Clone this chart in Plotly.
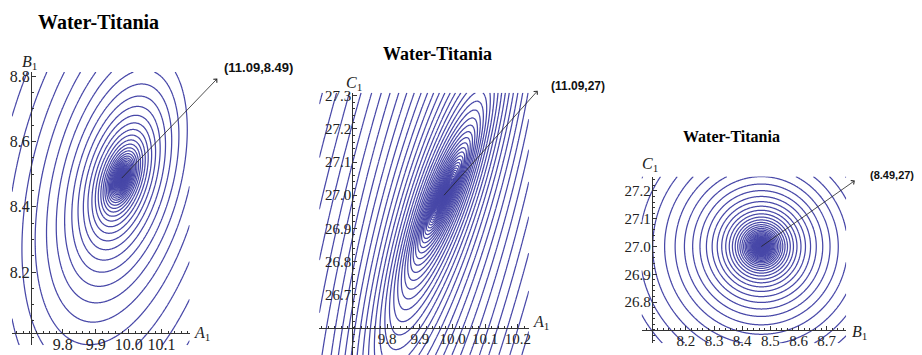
import numpy as np
import plotly.graph_objects as go

W, H = 922, 355

# ---- text ----
titles = ["Water-Titania", "Water-Titania", "Water-Titania"]
point_labels = ["(11.09,8.49)", "(11.09,27)", "(8.49,27)"]
x_names = ["A", "A", "B"]
y_names = ["B", "C", "C"]

# ---- minimum of each error surface ----
center_x = [9.979, 9.974, 8.468]
center_y = [8.488, 27.000, 27.000]
# orientation of the elliptical contours (deg, screen space): inner rings / outer rings
angle_inner = [70, 60, 90]
angle_outer = [78, 76, 90]
elongation = [2.2, 5.0, 1.03]
level_ratio = [1.17, 1.105, 1.13]
core_size = [14, 4, 6]   # extra crowding of contours near the minimum (px)

# ---- axes ----
x_ranges = [[9.6455, 10.185], [9.5924, 10.2336], [8.043, 8.769]]
y_ranges = [[7.976, 8.813], [26.518, 27.309], [26.652, 27.252]]
x_cross = [9.703, 9.693, 8.079]
y_cross = [8.013, 26.599, 26.699]
x_ticks = [[9.8, 9.9, 10.0, 10.1],
           [9.8, 9.9, 10.0, 10.1, 10.2],
           [8.2, 8.3, 8.4, 8.5, 8.6, 8.7]]
y_ticks = [[8.2, 8.4, 8.6, 8.8],
           [26.7, 26.8, 26.9, 27.0, 27.1, 27.2, 27.3],
           [26.8, 26.9, 27.0, 27.1, 27.2]]
x_minor = [0.02, 0.02, 0.02]
y_minor = [0.05, 0.02, 0.02]

# ---- layout (pixels) ----
boxes = [(12, 190, 68, 345), (320, 530, 89, 355), (643, 848, 174, 343)]
title_pos = [(99, 17, 20), (438, 50, 18), (733, 133, 16)]
tick_font = [16, 15, 15]
xname_pos = [(192, 333), (532, 322), (852, 332)]
yname_pos = [(30, 58), (355, 80), (651, 162)]
arrow_off = [(97, -101), (95, -106), (95, -67)]
label_pos = [(222, 63, 13), (550, 82, 12), (918, 172, 11)]
label_anchor = ["left", "left", "right"]

LINE = "#4848a8"
AX = "#333333"


def px(x):
    return x / W


def py(y):
    return 1 - y / H


fig = go.Figure()
annotations = []

for i in range(3):
    x0p, x1p, y0p, y1p = boxes[i]
    xr, yr = x_ranges[i], y_ranges[i]
    sx = (x1p - x0p) / (xr[1] - xr[0])
    sy = (y1p - y0p) / (yr[1] - yr[0])
    nx = int((x1p - x0p) * 1.6)
    ny = int((y1p - y0p) * 1.6)
    xs = np.linspace(xr[0], xr[1], nx)
    ys = np.linspace(yr[0], yr[1], ny)
    X, Y = np.meshgrid(xs, ys)
    dx = (X - center_x[i]) * sx
    dy = (Y - center_y[i]) * sy

    def radius(theta_deg):
        t = np.radians(theta_deg)
        u = dx * np.cos(t) + dy * np.sin(t)
        v = -dx * np.sin(t) + dy * np.cos(t)
        return np.sqrt(u ** 2 + (elongation[i] * v) ** 2 + 1e-6)

    # orientation drifts from inner to outer rings
    r = radius(angle_inner[i])
    for _ in range(5):
        f = np.clip(np.log(r / 10.0) / np.log(40.0), 0, 1)
        r = radius(angle_inner[i] + (angle_outer[i] - angle_inner[i]) * f)
    Z = np.log(r) - core_size[i] / (r + 0.5)

    sfx = "" if i == 0 else str(i + 1)
    xa, ya = "x" + sfx, "y" + sfx
    fig.add_trace(go.Contour(
        x=xs, y=ys, z=Z, xaxis=xa, yaxis=ya,
        contours=dict(coloring="lines", start=-10, end=np.log(4000),
                      size=np.log(level_ratio[i])),
        colorscale=[[0, LINE], [1, LINE]], showscale=False,
        line=dict(width=1.25), hoverinfo="skip"))

    xdom = [px(x0p), px(x1p)]
    ydom = [py(y1p), py(y0p)]
    xpos = ydom[0] + (y_cross[i] - yr[0]) / (yr[1] - yr[0]) * (ydom[1] - ydom[0])
    ypos = xdom[0] + (x_cross[i] - xr[0]) / (xr[1] - xr[0]) * (xdom[1] - xdom[0])

    common = dict(showgrid=False, zeroline=False, showline=True, linecolor=AX,
                  linewidth=1, ticks="inside", ticklen=4, tickcolor=AX,
                  tickwidth=1, tickmode="array", tickformat=".1f",
                  tickfont=dict(family="Liberation Serif", size=tick_font[i], color="#222"),
                  anchor="free", fixedrange=True)
    fig.layout["xaxis" + sfx] = dict(
        common, domain=xdom, range=xr, position=xpos, tickvals=x_ticks[i],
        ticklabelstandoff=-3,
        minor=dict(ticks="inside", ticklen=2, tickcolor=AX, tickmode="linear",
                   tick0=0, dtick=x_minor[i]))
    fig.layout["yaxis" + sfx] = dict(
        common, domain=ydom, range=yr, position=ypos, tickvals=y_ticks[i],
        ticklabelstandoff=-2,
        minor=dict(ticks="inside", ticklen=2, tickcolor=AX, tickmode="linear",
                   tick0=0, dtick=y_minor[i]))

    tx, ty, ts = title_pos[i]
    annotations.append(dict(text="<b>" + titles[i] + "</b>", x=px(tx), y=py(ty),
                            xref="paper", yref="paper", showarrow=False,
                            xanchor="center", yanchor="middle",
                            font=dict(family="Liberation Serif", size=ts, color="black")))
    nx_, ny_ = xname_pos[i]
    annotations.append(dict(text="<i>" + x_names[i] + "</i><sub>1</sub>", x=px(nx_), y=py(ny_),
                            xref="paper", yref="paper", showarrow=False,
                            xanchor="left", yanchor="middle",
                            font=dict(family="Liberation Serif", size=16, color="#222")))
    mx, my = yname_pos[i]
    annotations.append(dict(text="<i>" + y_names[i] + "</i><sub>1</sub>", x=px(mx), y=py(my),
                            xref="paper", yref="paper", showarrow=False,
                            xanchor="center", yanchor="middle",
                            font=dict(family="Liberation Serif", size=16, color="#222")))
    ax_, ay_ = arrow_off[i]
    annotations.append(dict(text="", x=center_x[i], y=center_y[i], xref=xa, yref=ya,
                            ax=ax_, ay=ay_, showarrow=True, arrowside="start",
                            startarrowhead=4, startarrowsize=1.2, arrowwidth=0.8,
                            arrowcolor="#222"))
    lx, ly, ls = label_pos[i]
    annotations.append(dict(text="<b>" + point_labels[i] + "</b>", x=px(lx), y=py(ly),
                            xref="paper", yref="paper", showarrow=False,
                            xanchor=label_anchor[i], yanchor="middle",
                            font=dict(family="Liberation Sans", size=ls, color="#111")))

fig.update_layout(width=W, height=H, margin=dict(l=0, r=0, t=0, b=0),
                  paper_bgcolor="white", plot_bgcolor="white",
                  showlegend=False, annotations=annotations)

fig.write_html("out.html", config={"displayModeBar": False, "staticPlot": True},
               post_script="document.body.style.margin='0';document.body.style.overflow='hidden';")
